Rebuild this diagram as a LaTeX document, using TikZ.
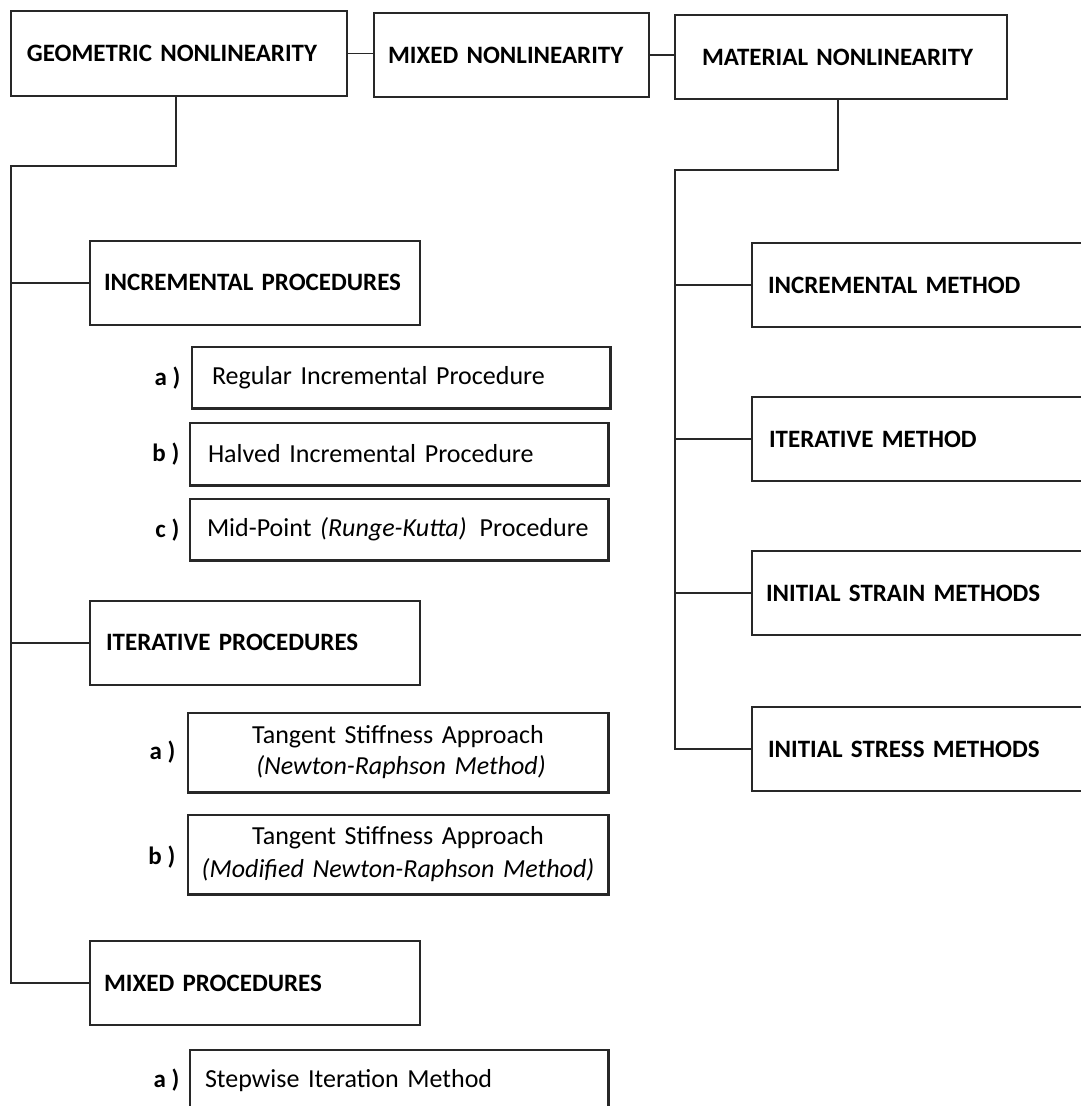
\documentclass[tikz,border=0pt]{standalone}
\usepackage{fontspec}
\setmainfont{Carlito}
\newcommand{\lt}[1]{\makebox[\linewidth][l]{#1}}
\begin{document}
\begin{tikzpicture}[x=1pt,y=-1pt,
  line width=1.4pt, draw={rgb,255:red,40;green,40;blue,40},
  hd/.style={font=\bfseries\fontsize{25}{29}\selectfont},
  sb/.style={font=\fontsize{26}{31}\selectfont},
  lb/.style={font=\bfseries\fontsize{25}{29}\selectfont, anchor=east, inner sep=0pt},
  bx/.style={draw, rectangle, inner ysep=0pt, align=left},
  shadowed/.style={line width=2.6pt}
]
\useasboundingbox (0,0) rectangle (1081,1106);
\fill[white] (0,0) rectangle (1081,1106);

% top-level boxes
\node[bx, hd, minimum width=336, minimum height=85, text width=304, inner xsep=16] (GEO) at (179,53.5) {\lt{GEOMETRIC NONLINEARITY}};
\node[bx, hd, minimum width=275, minimum height=84, text width=247, inner xsep=14] (MIX) at (511.5,55) {\lt{MIXED NONLINEARITY}};
\node[bx, hd, minimum width=332, minimum height=84, text width=278, inner xsep=27] (MAT) at (841,57) {\lt{\raisebox{-3pt}{MATERIAL NONLINEARITY}}};

% geometric branch
\node[bx, hd, minimum width=330, minimum height=84, text width=302, inner xsep=14] (IP) at (255,283) {\lt{\raisebox{2pt}{INCREMENTAL PROCEDURES}}};
\node[bx, hd, minimum width=330, minimum height=84, text width=298, inner xsep=16] (ITP) at (255,643) {\lt{\raisebox{2pt}{ITERATIVE PROCEDURES}}};
\node[bx, hd, minimum width=330, minimum height=84, text width=302, inner xsep=14] (MP) at (255,983) {\lt{MIXED PROCEDURES}};

\node[bx, sb, minimum width=418, minimum height=61, text width=378, inner xsep=20] (REG) at (401,377.5) {\lt{Regular Incremental Procedure}};
\node[bx, sb, minimum width=418, minimum height=62, text width=382, inner xsep=18] (HAL) at (399,454) {\lt{Halved Incremental Procedure}};
\node[bx, sb, minimum width=418, minimum height=61, text width=384, inner xsep=17] (MID) at (399,529.5) {\lt{Mid-Point \textit{(Runge-Kutta)}\, Procedure}};
\node[bx, sb, minimum width=420, minimum height=79, text width=400, inner xsep=10, align=center] (TSA) at (398,752.5) {Tangent Stiffness Approach\\\hspace*{6pt}\textit{(Newton-Raphson Method)}};
\node[bx, sb, minimum width=420, minimum height=79, text width=404, inner xsep=8, align=center] (TSB) at (398,854.5) {Tangent Stiffness Approach\\[2pt]\textit{(Modified Newton-Raphson Method)}};
\node[bx, sb, minimum width=418, minimum height=62, text width=388, inner xsep=15] (SW) at (399,1081) {\lt{\raisebox{1pt}{Stepwise Iteration Method}}};

\foreach \n in {REG,HAL,MID,TSA,TSB,SW}
  \draw[shadowed] (\n.north east) -- (\n.south east) -- (\n.south west);

\node[lb] (la1) at (181,378) {a )};
\node[lb] (lb1) at (180,454) {b )};
\node[lb] (lc1) at (180,530) {c )};
\node[lb] (la2) at (176,752) {a )};
\node[lb] (lb2) at (176,857) {b )};
\node[lb] (la3) at (180,1080) {a )};

% material branch
\node[bx, hd, minimum width=338, minimum height=84, text width=306, inner xsep=16] (INC) at (921,285) {\lt{INCREMENTAL METHOD}};
\node[bx, hd, minimum width=338, minimum height=84, text width=304, inner xsep=17] (ITM) at (921,439) {\lt{ITERATIVE METHOD}};
\node[bx, hd, minimum width=338, minimum height=84, text width=310, inner xsep=14] (STN) at (921,593) {\lt{INITIAL STRAIN METHODS}};
\node[bx, hd, minimum width=338, minimum height=84, text width=306, inner xsep=16] (STS) at (921,749) {\lt{INITIAL STRESS METHODS}};

% connectors
\coordinate (gt) at (11,166);
\coordinate (mt) at (675,170);
\draw (GEO.east) -- (GEO.east -| MIX.west);
\draw (MIX.east) -- (MIX.east -| MAT.west);
\draw ([xshift=-3pt]GEO.south) |- (gt) -- (gt |- MP.west) -- (MP.west);
\draw (IP.west) -- (IP.west -| gt);
\draw (ITP.west) -- (ITP.west -| gt);
\draw ([xshift=-3pt]MAT.south) |- (mt) -- (mt |- STS.west) -- (STS.west);
\draw (INC.west) -- (INC.west -| mt);
\draw (ITM.west) -- (ITM.west -| mt);
\draw (STN.west) -- (STN.west -| mt);
\end{tikzpicture}
\end{document}
